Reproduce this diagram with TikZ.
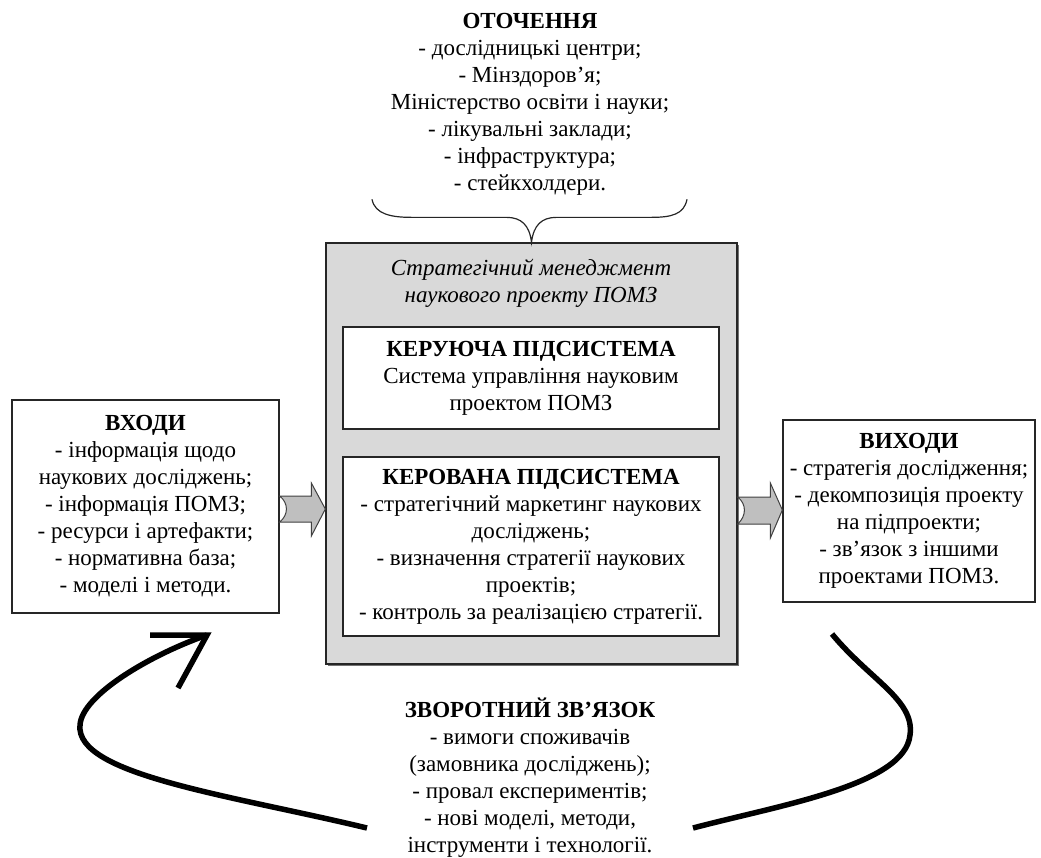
\documentclass[tikz,border=0pt]{standalone}
\usepackage{fontspec}
\setmainfont{Liberation Serif}
\usetikzlibrary{calc,shadows}
\begin{document}
\begin{tikzpicture}[x=1pt,y=-1pt,
  txt/.style={align=center, font=\fontsize{23}{27}\selectfont, inner sep=0pt},
  box/.style={draw=black!85, line width=1.3pt, fill=white, align=center,
              font=\fontsize{23}{27}\selectfont, inner sep=0pt},
  mainbox/.style={draw=black!85, line width=1.3pt, fill=black!15,
              drop shadow={shadow xshift=1.6pt, shadow yshift=-1.6pt, fill=black!55, opacity=1}},
  blockarr/.style={draw=black!75, line width=1pt, fill=black!25, line join=miter},
  fb/.style={line width=5.5pt, black},
  bracestyle/.style={line width=1.2pt, black!85},
]
\useasboundingbox (0,0) rectangle (1041,857);

% environment text
\node[txt] (env) at (530,104.5) {\textbf{ОТОЧЕННЯ}\\- дослідницькі центри;\\- Мінздоров’я;\\Міністерство освіти і науки;\\- лікувальні заклади;\\- інфраструктура;\\- стейкхолдери.};

% main box
\node[mainbox, minimum width=411pt, minimum height=421pt] (main) at (531.5,453.5) {};
\node[txt, font=\fontsize{23}{27}\selectfont\itshape] (title) at (531,283) {Стратегічний менеджмент\\наукового проекту ПОМЗ};
\node[box, minimum width=376pt, minimum height=102pt] (ctrl) at (531,378)
  {\textbf{КЕРУЮЧА ПІДСИСТЕМА}\\Система управління науковим\\проектом ПОМЗ};
\node[box, minimum width=376pt, minimum height=179pt] (managed) at (531,546.5)
  {\textbf{КЕРОВАНА ПІДСИСТЕМА}\\- стратегічний маркетинг наукових\\досліджень;\\- визначення стратегії наукових\\проектів;\\- контроль за реалізацією стратегії.};

% inputs / outputs
\node[box, minimum width=267pt, minimum height=213pt] (inbox) at (145.5,506.5)
  {\textbf{ВХОДИ}\\- інформація щодо\\наукових досліджень;\\- інформація ПОМЗ;\\- ресурси і артефакти;\\- нормативна база;\\- моделі і методи.};
\node[box, minimum width=252pt, minimum height=182pt] (outbox) at (909,511)
  {\textbf{ВИХОДИ}\\- стратегія дослідження;\\- декомпозиція проекту\\на підпроекти;\\- зв’язок з іншими\\проектами ПОМЗ.};

% feedback text
\node[txt] (fbtext) at (530,778) {\textbf{ЗВОРОТНИЙ ЗВ’ЯЗОК}\\- вимоги споживачів\\(замовника досліджень);\\- провал експериментів;\\- нові моделі, методи,\\інструменти і технології.};

% brace
\draw[bracestyle] ($(main.north)+(-159.5,-43)$) .. controls +(3,15) and +(-20,0) .. ($(main.north)+(-120,-25)$)
  -- ($(main.north)+(-25,-25)$) .. controls +(15,0) and +(-2,-17) .. (main.north)
  .. controls +(2,-17) and +(-15,0) .. ($(main.north)+(25,-25)$)
  -- ($(main.north)+(120,-25)$) .. controls +(20,0) and +(-3,15) .. ($(main.north)+(155.5,-43)$);

% block arrows
\coordinate (a1s) at (inbox.east |- 0,509);
\coordinate (a1e) at (main.west |- 0,509);
\draw[blockarr] ($(a1s)+(0,-13)$) -- ($(a1e)+(-14,-13)$) -- ($(a1e)+(-14,-26)$) -- (a1e)
  -- ($(a1e)+(-14,27)$) -- ($(a1e)+(-14,13)$) -- ($(a1s)+(0,13)$)
  .. controls ($(a1s)+(9,6)$) and ($(a1s)+(9,-6)$) .. cycle;
\coordinate (a2s) at (main.east |- 0,510);
\coordinate (a2e) at (outbox.west |- 0,510);
\draw[blockarr] ($(a2s)+(0,-13)$) -- ($(a2e)+(-12,-13)$) -- ($(a2e)+(-12,-27)$) -- (a2e)
  -- ($(a2e)+(-12,28)$) -- ($(a2e)+(-12,14)$) -- ($(a2s)+(0,14)$)
  .. controls ($(a2s)+(9,6)$) and ($(a2s)+(9,-6)$) .. cycle;

% feedback curves
\coordinate (fbL) at (367,828);
\coordinate (fbtip) at (207,635);
\coordinate (armA) at (150,635);
\coordinate (armB) at (178,688);
\coordinate (fbR) at (693,828);
\coordinate (fbtop) at (832,634);
\draw[fb] (fbL) .. controls (230,795) and (75,775) .. (80,725)
  .. controls (82,695) and (150,655) .. (fbtip);
\draw[fb, line join=miter] (armA) -- (fbtip) -- (armB);
\draw[fb] (fbtop) .. controls (870,680) and (915,700) .. (910,735)
  .. controls (905,785) and (780,805) .. (fbR);
\end{tikzpicture}
\end{document}
